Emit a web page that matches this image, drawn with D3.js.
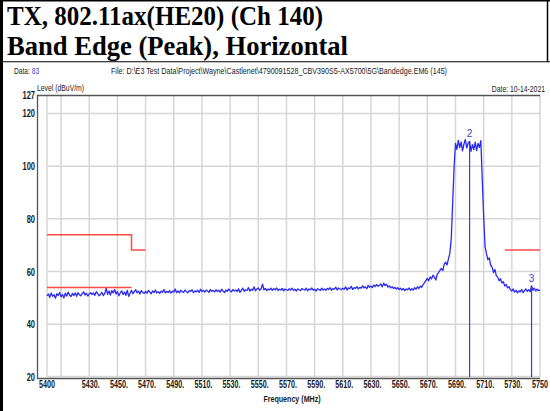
<!DOCTYPE html>
<html>
<head>
<meta charset="utf-8">
<script src="https://cdn.jsdelivr.net/npm/d3@7"></script>
<style>
  body { margin: 0; background: #fff; }
  svg { display: block; }
  .narrow { font-family: 'Liberation Sans', Arial, sans-serif; }
</style>
</head>
<body>
<div id="chart"></div>
<script>
// heading text
const titleLines = ['TX, 802.11ax(HE20) (Ch 140)', 'Band Edge (Peak), Horizontal'];
const dataNo = '83';
const fileText = 'File: D:\\E3 Test Data\\Project\\Wayne\\Castlenet\\4790091528_CBV390S5-AX5700\\5G\\Bandedge.EM6  (145)';
const dateText = 'Date: 10-14-2021';

// sweep: 5400 .. 5750 MHz, 1 MHz per point
const freqStart = 5400;
const freqStep = 1;
const level = [
  50.8, 51.5, 50.2, 51.9, 50.6, 51.2, 49.9, 51.6, 50.9, 52.1,
  50.4, 51.3, 50.0, 51.8, 50.7, 52.2, 51.0, 50.5, 51.7, 50.9,
  51.9, 50.6, 52.0, 51.2, 50.8, 51.6, 52.3, 51.1, 51.8, 50.7,
  51.5, 52.0, 51.3, 51.9, 51.0, 52.4, 51.6, 50.8, 51.4, 52.1,
  50.9, 51.7, 53.6, 51.4, 52.6, 51.1, 52.8, 51.9, 53.2, 51.5,
  52.4, 50.8, 51.9, 52.7, 51.3, 52.2, 51.0, 52.9, 50.6, 51.8,
  52.9, 51.6, 52.4, 53.1, 51.9, 52.6, 51.5, 52.8, 52.1, 51.7,
  52.5, 51.8, 52.9, 52.2, 51.6, 52.7, 52.0, 53.0, 51.9, 52.4,
  51.7, 52.6, 52.1, 53.2, 51.9, 52.5, 52.0, 52.8, 51.8, 52.6,
  52.2, 53.4, 52.0, 52.7, 51.9, 52.9, 52.3, 52.1, 53.0, 52.4,
  51.9, 52.8, 52.5, 53.1, 52.0, 52.7, 52.3, 52.9, 52.1, 53.3,
  52.4, 52.9, 52.2, 53.0, 52.6, 52.1, 53.2, 52.5, 52.8, 52.3,
  53.1, 52.4, 52.9, 52.2, 53.3, 52.6, 52.0, 53.0, 52.5, 53.4,
  52.7, 52.3, 53.2, 52.6, 53.0, 52.4, 53.5, 52.1, 52.9, 53.7,
  52.5, 53.1, 52.8, 53.9, 52.6, 53.3, 52.9, 54.2, 52.7, 53.4,
  53.8, 52.9, 53.5, 55.2, 53.1, 53.6, 52.8, 53.4, 53.0, 53.7,
  52.9, 53.5, 53.1, 53.8, 52.8, 53.3, 53.0, 53.6, 52.7, 53.4,
  53.1, 52.8, 53.5, 53.0, 53.7, 52.9, 53.3, 52.6, 53.4, 53.1,
  52.8, 53.6, 53.2, 53.0, 53.7, 52.7, 53.4, 53.1, 53.8, 52.9,
  53.3, 52.6, 53.5, 53.2, 52.8, 53.7, 53.0, 53.4, 52.9, 53.6,
  53.2, 53.9, 52.9, 53.5, 53.3, 54.1, 53.0, 53.8, 53.4, 53.1,
  53.7, 53.3, 54.2, 53.0, 53.8, 53.5, 54.4, 53.2, 53.9, 53.6,
  54.3, 53.4, 54.0, 53.7, 54.6, 53.8, 54.2, 53.5, 54.8, 54.0,
  54.5, 53.9, 54.9, 54.3, 55.1, 54.4, 54.8, 55.3, 54.2, 55.6,
  54.7, 55.2, 54.1, 54.6, 53.8, 54.3, 53.6, 54.0, 53.4, 53.9,
  53.2, 53.7, 53.0, 53.6, 52.8, 53.4, 53.1, 53.8, 52.9, 53.5,
  53.0, 53.9, 53.3, 54.2, 53.6, 54.5, 54.0, 55.0, 55.8, 56.6,
  57.4, 56.5, 58.0, 57.2, 58.6, 57.9, 56.8, 58.9, 59.6, 60.5,
  61.2, 60.4, 62.8, 63.6, 62.5, 64.8, 66.9, 72.5, 86.0, 99.5,
  108.6, 106.4, 109.8, 107.0, 109.2, 105.8, 108.4, 110.1, 106.9, 108.8,
  109.4, 105.6, 108.2, 106.3, 109.1, 105.9, 108.6, 107.1, 109.7, 95.0,
  81.0, 69.5, 66.8, 64.5, 65.2, 62.4, 61.7, 59.6, 60.8, 58.4,
  57.9, 56.5, 57.3, 55.6, 56.2, 54.5, 55.1, 53.8, 54.3, 53.1,
  52.6, 53.4, 52.2, 52.9, 51.9, 52.7, 52.3, 53.2, 52.0, 52.8,
  53.4, 52.5, 53.1, 52.4, 54.6, 52.9, 53.7, 52.6, 53.3, 52.8,
  53.0
];

// limit lines (freq MHz, dBuV/m)
const limitAvg = [[5400, 54], [5460, 54]];
const limitPeakLow = [[5400, 74], [5460, 74], [5460, 68.2], [5470, 68.2]];
const limitPeakHigh = [[5725, 68.2], [5750, 68.2]];

// markers
const markers = [{ id: '2', freq: 5700 }, { id: '3', freq: 5744 }];

// axes
const xDomain = [5400, 5750];
const yDomain = [20, 127];
const xGrid = [5400, 5410, 5430, 5450, 5470, 5490, 5510, 5530, 5550, 5570, 5590, 5610, 5630, 5650, 5670, 5690, 5710, 5730, 5750];
const xLabels = [5430, 5450, 5470, 5490, 5510, 5530, 5550, 5570, 5590, 5610, 5630, 5650, 5670, 5690, 5710, 5730];
const yGrid = [40, 60, 80, 100, 120];
const yLabels = [20, 40, 60, 80, 100, 120, 127];

const width = 550;
const height = 411;

const svg = d3.select('#chart').append('svg')
  .attr('width', width)
  .attr('height', height);

// condensed text: regular font squeezed sideways
const narrowText = function (parent, px, py, size, sx, anchor) {
  return parent.append('text')
    .attr('class', 'narrow')
    .attr('transform', `translate(${px},${py}) scale(${sx},1)`)
    .attr('text-anchor', anchor || 'start')
    .style('font-size', size + 'px')
    .attr('fill', '#1a1a1a');
};

// frame around the page
svg.append('rect').attr('x', 0).attr('y', 0).attr('width', 3).attr('height', height).attr('fill', '#000');
svg.append('line').attr('x1', 0).attr('x2', width).attr('y1', 0.75).attr('y2', 0.75)
  .attr('stroke', '#000').attr('stroke-width', 1.5);
svg.append('line').attr('x1', 547.5).attr('x2', 547.5).attr('y1', 0).attr('y2', 62)
  .attr('stroke', '#000').attr('stroke-width', 1.5);
svg.append('line').attr('x1', 3).attr('x2', width).attr('y1', 61.75).attr('y2', 61.75)
  .attr('stroke', '#000').attr('stroke-width', 1.2);

// title
svg.selectAll('text.title')
  .data(titleLines)
  .enter()
  .append('text')
  .attr('class', 'title')
  .attr('x', 7)
  .attr('y', (d, i) => 25 + i * 29.5)
  .attr('textLength', (d, i) => i === 0 ? 316 : 341)
  .attr('lengthAdjust', 'spacingAndGlyphs')
  .style('font-family', "'Liberation Serif', 'Times New Roman', serif")
  .style('font-weight', 'bold')
  .style('font-size', '27px')
  .text(d => d);

// scales
const x = d3.scaleLinear().domain(xDomain).range([47, 540]);
const y = d3.scaleLinear().domain(yDomain).range([377, 95]);

const g = svg.append('g');

// header lines of the plot
const dataLabel = narrowText(g, 14, 74, 9, 0.74);
dataLabel.append('tspan').text('Data: ');
dataLabel.append('tspan').attr('fill', '#2f3fd8').text(dataNo);

g.append('text')
  .attr('class', 'narrow')
  .attr('x', 111)
  .attr('y', 74)
  .attr('textLength', 336)
  .attr('lengthAdjust', 'spacingAndGlyphs')
  .style('font-size', '9px')
  .attr('fill', '#1a1a1a')
  .text(fileText);

narrowText(g, 545, 92, 9, 0.76, 'end').text(dateText);
narrowText(g, 37, 91, 9, 0.76).text('Level (dBuV/m)');

// grid
g.selectAll('line.vgrid')
  .data(xGrid)
  .enter()
  .append('line')
  .attr('class', 'vgrid')
  .attr('x1', d => x(d))
  .attr('x2', d => x(d))
  .attr('y1', y(127))
  .attr('y2', y(20))
  .attr('stroke', '#d6d6d6')
  .attr('stroke-width', 1.5);

g.selectAll('line.hgrid')
  .data(yGrid)
  .enter()
  .append('line')
  .attr('class', 'hgrid')
  .attr('x1', x(5400))
  .attr('x2', x(5750))
  .attr('y1', d => y(d))
  .attr('y2', d => y(d))
  .attr('stroke', '#d6d6d6')
  .attr('stroke-width', 1.5);

g.append('line')
  .attr('x1', x(5400)).attr('x2', x(5750))
  .attr('y1', y(20) - 0.5).attr('y2', y(20) - 0.5)
  .attr('stroke', '#d6d6d6').attr('stroke-width', 1.5);

// dark frame: left, top, bottom
g.append('path')
  .attr('d', `M${x(5750)},95.5 H37.5 V378.5 H${x(5750)}`)
  .attr('fill', 'none')
  .attr('stroke', '#555')
  .attr('stroke-width', 1.3);

// tick labels
yLabels.forEach(function (d) {
  narrowText(g, 35, y(d) + 4, 10, 0.75, 'end')
    .style('font-weight', 'bold')
    .text(d);
});

xLabels.forEach(function (d) {
  narrowText(g, x(d) + 1.5, 388, 10, 0.72, 'middle')
    .style('font-weight', 'bold')
    .text(d + '.');
});

xDomain.forEach(function (d) {
  narrowText(g, x(d), 388, 10, 0.72, 'middle')
    .style('font-weight', 'bold')
    .text(d);
});

narrowText(g, 292, 402, 9.5, 0.75, 'middle')
  .style('font-weight', 'bold')
  .text('Frequency (MHz)');

// limit lines
const limLine = d3.line().x(d => x(d[0])).y(d => y(d[1]));
[limitAvg, limitPeakLow, limitPeakHigh].forEach(function (seg) {
  g.append('path')
    .attr('d', limLine(seg))
    .attr('fill', 'none')
    .attr('stroke', '#ff4848')
    .attr('stroke-width', 1.5);
});

// trace
const trace = level.map((v, i) => [freqStart + i * freqStep, v]);
g.append('path')
  .attr('d', d3.line().x(d => x(d[0])).y(d => y(d[1]))(trace))
  .attr('fill', 'none')
  .attr('stroke', '#2a2af2')
  .attr('stroke-width', 1.3)
  .attr('stroke-linejoin', 'round');

// markers
const markerLevel = function (f) {
  return level[Math.round((f - freqStart) / freqStep)];
};
g.selectAll('line.marker')
  .data(markers)
  .enter()
  .append('line')
  .attr('class', 'marker')
  .attr('x1', d => x(d.freq))
  .attr('x2', d => x(d.freq))
  .attr('y1', d => y(markerLevel(d.freq)))
  .attr('y2', y(20))
  .attr('stroke', '#3a3ae0')
  .attr('stroke-width', 1.2);

g.selectAll('text.mlab')
  .data(markers)
  .enter()
  .append('text')
  .attr('class', 'mlab')
  .attr('x', d => x(d.freq))
  .attr('y', d => y(markerLevel(d.freq)) - 4)
  .attr('text-anchor', 'middle')
  .style('font-family', "'Liberation Sans', Arial, sans-serif")
  .style('font-size', '10px')
  .attr('fill', '#4040d8')
  .text(d => d.id);
</script>
</body>
</html>
